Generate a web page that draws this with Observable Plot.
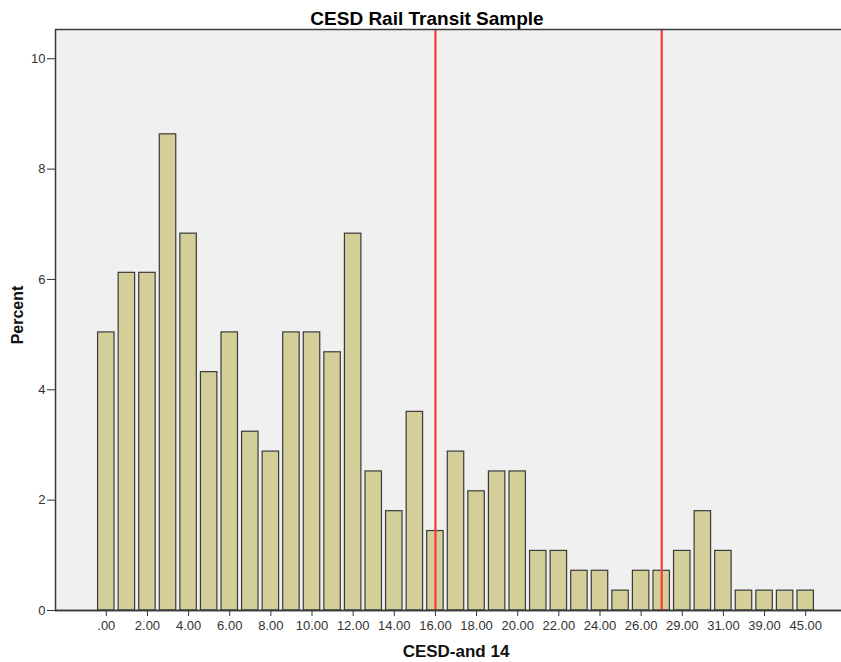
<!DOCTYPE html>
<html>
<head>
<meta charset="utf-8">
<script src="https://cdn.jsdelivr.net/npm/d3@7"></script>
<script src="https://cdn.jsdelivr.net/npm/@observablehq/plot@0.6"></script>
<style>
  html, body { margin: 0; padding: 0; background: #fff; overflow: hidden; width: 841px; height: 662px; }
  #chart svg { max-width: none !important; }
</style>
</head>
<body>
<div id="chart"></div>
<script>
// CESD score categories (x) and percent of sample (y)
const scores = [0, 1, 2, 3, 4, 5, 6, 7, 8, 9, 10, 11, 12, 13, 14, 15, 16, 17, 18, 19, 20,
                21, 22, 23, 24, 25, 26, 27, 29, 30, 31, 35, 39, 42, 45];
const percents = [5.04, 6.12, 6.12, 8.63, 6.83, 4.32, 5.04, 3.24, 2.88, 5.04, 5.04,
                  4.68, 6.83, 2.52, 1.80, 3.60, 1.44, 2.88, 2.16, 2.52, 2.52,
                  1.08, 1.08, 0.72, 0.72, 0.36, 0.72, 0.72, 1.08, 1.80, 1.08, 0.36, 0.36, 0.36, 0.36];
// labelled x ticks
const xTicks = [0, 2, 4, 6, 8, 10, 12, 14, 16, 18, 20, 22, 24, 26, 29, 31, 39, 45];
const yTicks = [0, 2, 4, 6, 8, 10];
// reference lines (cut-offs)
const refLines = [16, 27];

const title = "CESD Rail Transit Sample";
const xLabel = "CESD-and 14";
const yLabel = "Percent";

const data = scores.map((s, i) => ({score: s, pct: percents[i]}));
const fmt = v => v.toFixed(2).replace(/^0\./, ".");

const chart = Plot.plot({
  width: 856,
  height: 662,
  marginLeft: 55,
  marginRight: 0,
  marginTop: 29,
  marginBottom: 52,
  style: {fontFamily: "'Liberation Sans', Arial, sans-serif", fontSize: "13px", color: "#333", background: "transparent"},
  x: {
    type: "band",
    domain: scores,
    round: false,
    paddingInner: 0.2,
    paddingOuter: 2.07,
    ticks: xTicks,
    tickFormat: fmt,
    tickSize: 6,
    tickPadding: 4,
    label: null
  },
  y: {
    domain: [0, 10.53],
    ticks: yTicks,
    tickSize: 8,
    tickPadding: 2,
    label: null
  },
  marks: [
    Plot.frame({fill: "#f0f0f0", stroke: "none"}),
    Plot.barY(data, {x: "score", y: "pct", fill: "#d4cf98", stroke: "#3a3a3a", strokeWidth: 1.2}),
    Plot.ruleX(refLines, {x: d => d, stroke: "#f53b3b", strokeWidth: 2.2}),
    Plot.frame({stroke: "#3a3a3a", strokeWidth: 1.5, fill: "none"}),
    Plot.ruleY([0], {stroke: "#3a3a3a", strokeWidth: 1.5}),
    Plot.text([title], {frameAnchor: "top", text: d => d, dy: -11, dx: -29, fontSize: 19, fontWeight: "bold", fill: "#000", lineAnchor: "middle"}),
    Plot.text([xLabel], {frameAnchor: "bottom", text: d => d, dy: 41, fontSize: 17, fontWeight: "bold", fill: "#111", lineAnchor: "middle"}),
    Plot.text([yLabel], {frameAnchor: "left", text: d => d, dx: -38, dy: -5, rotate: -90, textAnchor: "middle", fontSize: 16, fontWeight: "bold", fill: "#111", lineAnchor: "middle"})
  ]
});
document.getElementById("chart").appendChild(chart);
</script>
</body>
</html>
